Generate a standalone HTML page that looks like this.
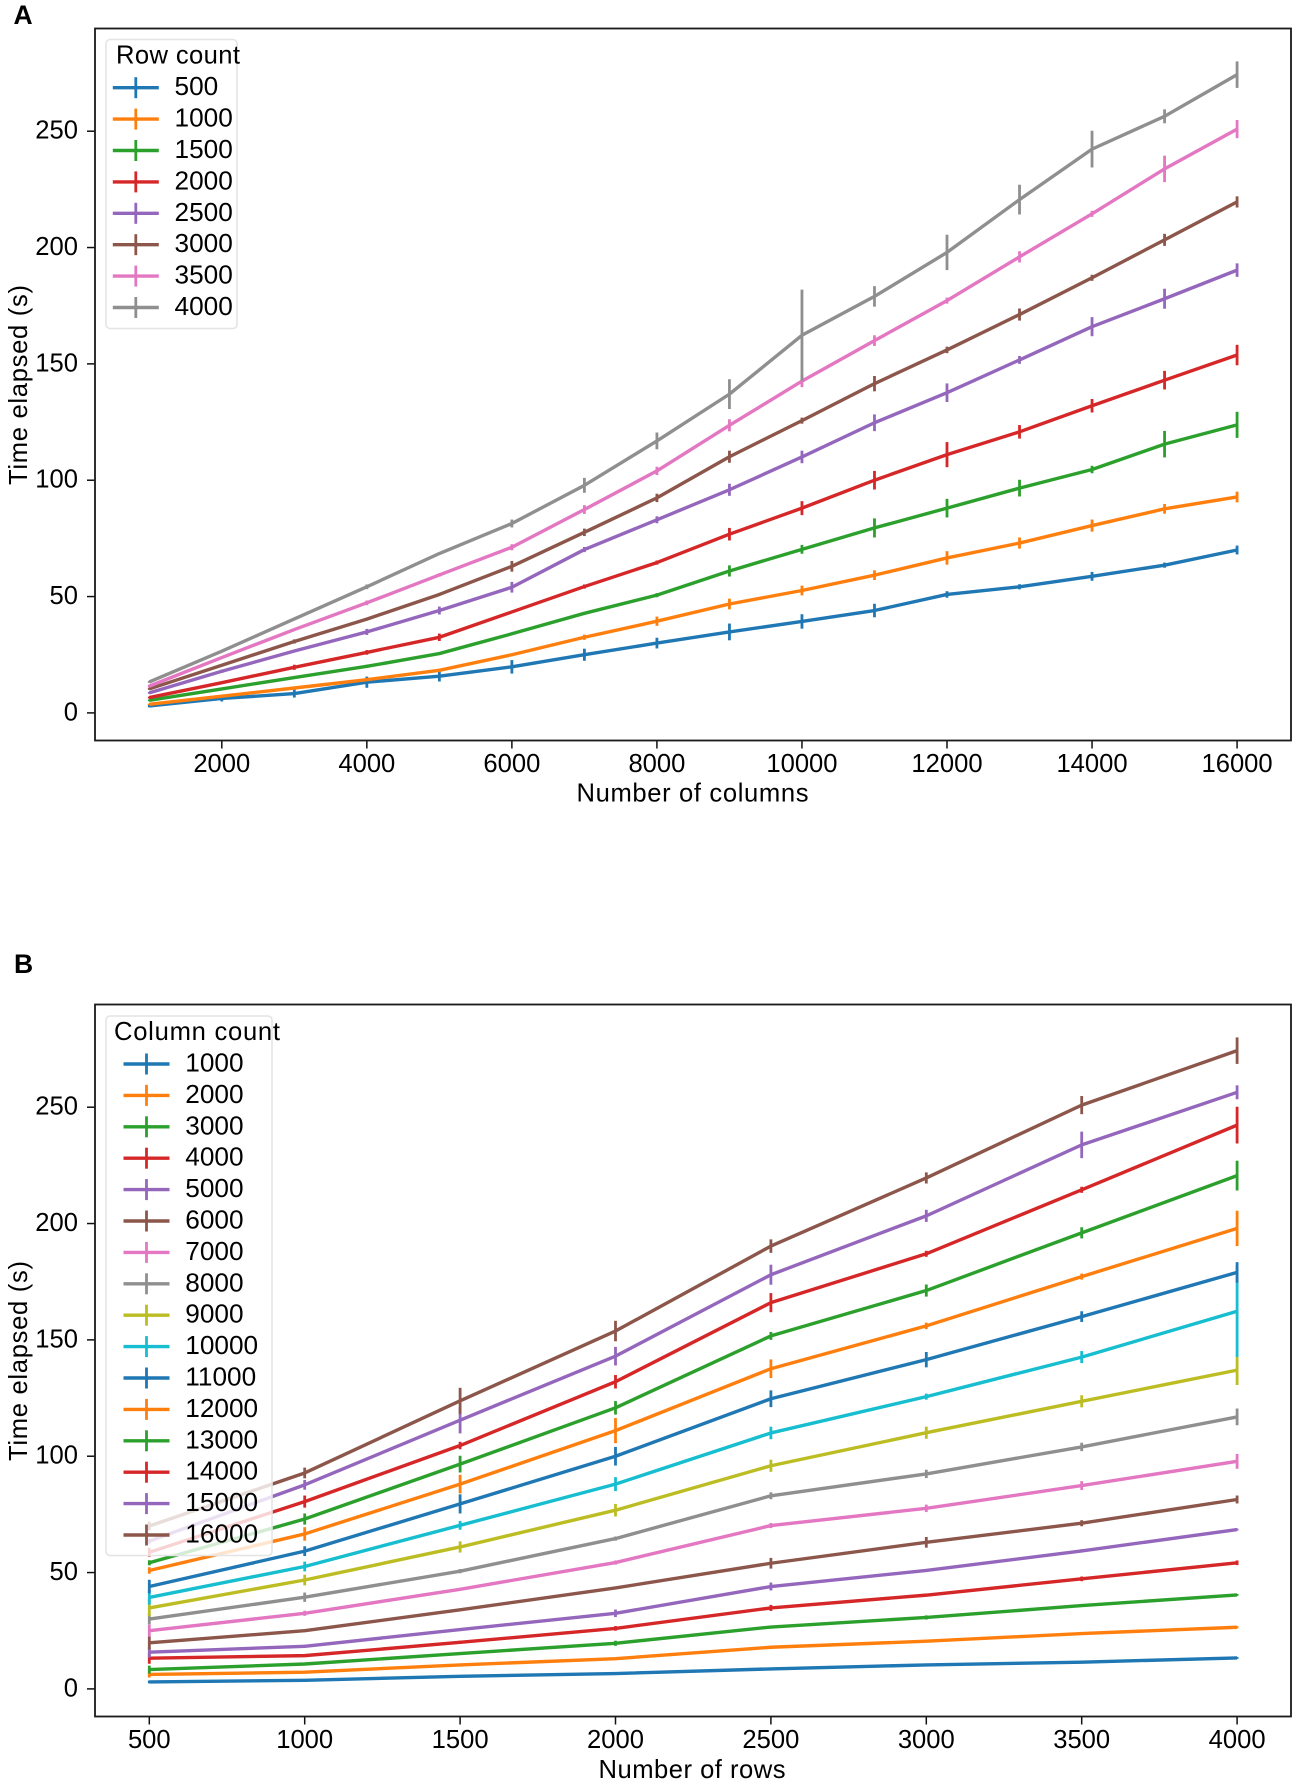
<!DOCTYPE html>
<html lang="en">
<head>
<meta charset="utf-8">
<title>Time elapsed by number of columns and rows</title>
<style>
html,body{margin:0;padding:0;background:#fff;}
svg{display:block;}
text{font-family:"Liberation Sans",Arial,sans-serif;fill:#000;}
</style>
</head>
<body>
<svg id="figure" xmlns="http://www.w3.org/2000/svg" width="1299" height="1786" viewBox="0 0 1299 1786">
  <rect width="1299" height="1786" fill="#fff"/>
  <text x="13.5" y="24" font-size="26.5" font-weight="bold">A</text>
  <text x="14" y="973" font-size="26.5" font-weight="bold">B</text>
  <g id="panelA"></g>
  <g id="panelB"></g>
  <text x="692.5" y="801.5" font-size="25.6" text-anchor="middle" textLength="232">Number of columns</text>
  <text transform="translate(27,385) rotate(-90)" font-size="25.6" text-anchor="middle" textLength="200">Time elapsed (s)</text>
  <text x="692" y="1778" font-size="25.6" text-anchor="middle" textLength="187">Number of rows</text>
  <text transform="translate(27,1361) rotate(-90)" font-size="25.6" text-anchor="middle" textLength="200">Time elapsed (s)</text>
</svg>
<script>
const colCounts = [1000,2000,3000,4000,5000,6000,7000,8000,9000,10000,11000,12000,13000,14000,15000,16000];
const rowCounts = [500,1000,1500,2000,2500,3000,3500,4000];

const times500  = [3,6.2,8.3,13.2,15.8,19.8,25,30,34.8,39.3,44,50.9,54.2,58.7,63.5,70];
const times1000 = [3.7,7.2,10.7,14.3,18.3,25,32.5,39.4,46.8,52.6,59.2,66.6,73,80.5,87.7,92.8];
const times1500 = [5.4,10.3,15.2,20,25.5,34,42.8,50.6,61,70.3,79.5,88,96.6,104.6,115.5,123.8];
const times2000 = [6.6,13,19.6,26,32.5,43.4,54.3,64.6,76.8,88,100,111,120.8,132,143,153.8];
const times2500 = [8.6,17.9,26.6,34.8,44,54,70.2,83,95.9,110,124.7,137.6,151.7,166,178,190.3];
const times3000 = [10.3,20.5,30.7,40.3,50.9,63,77.6,92.4,110.1,125.6,141.5,156,171.2,187,203.3,219.6];
const times3500 = [11.5,23.8,35.8,47.3,59.3,71.2,87.4,104,123.6,142.6,160,177.2,196,214.5,233.8,250.9];
const times4000 = [13.3,26.5,40.4,54.2,68.5,81.4,97.8,116.9,137,162.3,179,197.9,220.6,242.3,256.4,274.3];

const errs500  = [.6,1.3,1.7,2.4,2.3,2.9,2.6,2.3,3.6,3.1,2.9,1.4,1.1,1.9,1.1,1.9];
const errs1000 = [.3,.4,.4,.4,.7,.4,1.1,2,2.3,2.1,2.1,2.9,2.4,2.6,2.1,2.3];
const errs1500 = [.4,.4,.4,.7,.6,.4,.4,.9,2.4,1.9,4.1,4,3.6,1.6,5.7,5.6];
const errs2000 = [.4,.4,1.1,1,1.6,.4,.9,.9,2.7,3,4,5.4,2.9,2.9,4,4.4];
const errs2500 = [.4,.7,.6,1.3,1.7,2.3,1.1,1.5,2.6,2.7,3.6,4,1.7,4.1,4.3,2.9];
const errs3000 = [.4,.4,.9,.6,.6,2.3,1.6,1.8,2.6,1.3,3.3,1.4,2.6,1.3,2.6,2.4];
const errs3500 = [.6,.4,.4,1,.7,1.3,1.9,1.8,2.6,2.6,2.3,1.3,2.4,1.3,5.7,3.9];
const errs4000 = [.4,.4,.4,1,.4,1.7,3.2,3.6,6.4,19.6,4.4,7.6,6.4,7.9,3,5.7];

const xTickLabelsA = [2000,4000,6000,8000,10000,12000,14000,16000];
const xTickLabelsB = [500,1000,1500,2000,2500,3000,3500,4000];
const yTickLabels = [0,50,100,150,200,250];
const palette = ['#1f77b4','#ff7f0e','#2ca02c','#d62728','#9467bd','#8c564b','#e377c2','#8f8f8f','#bcbd22','#17becf'];

const timesByRow = [times500,times1000,times1500,times2000,times2500,times3000,times3500,times4000];
const errsByRow = [errs500,errs1000,errs1500,errs2000,errs2500,errs3000,errs3500,errs4000];

const NS = 'http://www.w3.org/2000/svg';
function xScaleA(v){ return 221.8 + (v - 2000) * 0.07252; }
function xScaleB(v){ return 149.3 + (v - 500) * 0.3108; }
function yScaleA(v){ return 712.9 - v * 2.3268; }
function yScaleB(v){ return 1688.9 - v * 2.3268; }

function make(tag, parent, props, content){
  const el = document.createElementNS(NS, tag);
  for (const k in props) el.setAttribute(k, props[k]);
  if (content !== undefined) el.textContent = content;
  parent.appendChild(el);
  return el;
}

function drawPanel(parent, key, box, xScale, yScale, xTicks, xs, series, legend){
  const bg = make('rect', parent, {x:box.l, y:box.t, width:box.r-box.l, height:box.b-box.t, fill:'#fff'});
  
  

  series.forEach(function(s, si){
    const g = make('g', parent, {});
    
    
    const color = palette[si % palette.length];
    xs.forEach(function(xv, i){
      const px = xScale(xv);
      const bar = make('line', g, {x1:px, x2:px, y1:yScale(s.values[i]-s.errs[i]), y2:yScale(s.values[i]+s.errs[i]), stroke:color, 'stroke-width':2.8});
      
      
    });
    const pts = xs.map(function(xv, i){ return xScale(xv).toFixed(2) + ',' + yScale(s.values[i]).toFixed(2); }).join(' ');
    const line = make('polyline', g, {points:pts, fill:'none', stroke:color, 'stroke-width':3.4, 'stroke-linejoin':'round'});
    
    
  });

  xTicks.forEach(function(v){
    const px = xScale(v);
    const tick = make('line', parent, {x1:px, x2:px, y1:box.b, y2:box.b+8, stroke:'#111', 'stroke-width':1.5});
    
    
    const lab = make('text', parent, {x:px, y:box.b+31.5, 'font-size':25.6, 'text-anchor':'middle'}, String(v));
    
    
  });
  yTickLabels.forEach(function(v){
    const py = yScale(v);
    const tick = make('line', parent, {x1:box.l-8, x2:box.l, y1:py, y2:py, stroke:'#111', 'stroke-width':1.5});
    
    
    const lab = make('text', parent, {x:78, y:py+7.5, 'font-size':25.6, 'text-anchor':'end'}, String(v));
    
    
  });

  const frame = make('rect', parent, {x:box.l, y:box.t, width:box.r-box.l, height:box.b-box.t, fill:'none', stroke:'#1a1a1a', 'stroke-width':1.8});
  
  

  const lg = make('g', parent, {});
  
  
  const lbox = make('rect', lg, {x:legend.l, y:legend.t, width:legend.r-legend.l, height:legend.b-legend.t, rx:4, ry:4, fill:'rgba(255,255,255,0.8)', stroke:'#e4e4e4', 'stroke-width':1.6});
  
  
  const ttl = make('text', lg, {x:legend.titleX, y:legend.titleY, 'font-size':25.6, textLength:legend.titleLen}, legend.title);
  
  
  series.forEach(function(s, si){
    const color = palette[si % palette.length];
    const y = legend.rowY + si * 31.4;
    const e = make('g', lg, {});
    
    
    const hl = make('line', e, {x1:legend.hx-23, x2:legend.hx+23, y1:y, y2:y, stroke:color, 'stroke-width':3.4});
    
    
    const vl = make('line', e, {x1:legend.hx, x2:legend.hx, y1:y-10.5, y2:y+10.5, stroke:color, 'stroke-width':2.8});
    
    
    const t = make('text', e, {x:legend.textX, y:y+7.5, 'font-size':26.2}, String(s.label));
    
    
  });
}

const seriesA = rowCounts.map(function(r, i){
  return {label:r, values:timesByRow[i], errs:errsByRow[i]};
});
const seriesB = colCounts.map(function(c, j){
  return {label:c,
          values:timesByRow.map(function(row){ return row[j]; }),
          errs:errsByRow.map(function(row){ return row[j]; })};
});

drawPanel(document.getElementById('panelA'), 'a', {l:95, r:1291, t:28.5, b:740.5}, xScaleA, yScaleA, xTickLabelsA, colCounts, seriesA,
  {l:106, r:237, t:39.5, b:328.5, title:'Row count', titleX:116, titleY:63.5, titleLen:124, rowY:87.7, hx:135.8, textX:174.5});
drawPanel(document.getElementById('panelB'), 'b', {l:95, r:1291, t:1004.5, b:1716.5}, xScaleB, yScaleB, xTickLabelsB, rowCounts, seriesB,
  {l:106, r:272, t:1016, b:1555.5, title:'Column count', titleX:114, titleY:1040, titleLen:166, rowY:1064, hx:146.5, textX:185.3});
</script>
</body>
</html>
